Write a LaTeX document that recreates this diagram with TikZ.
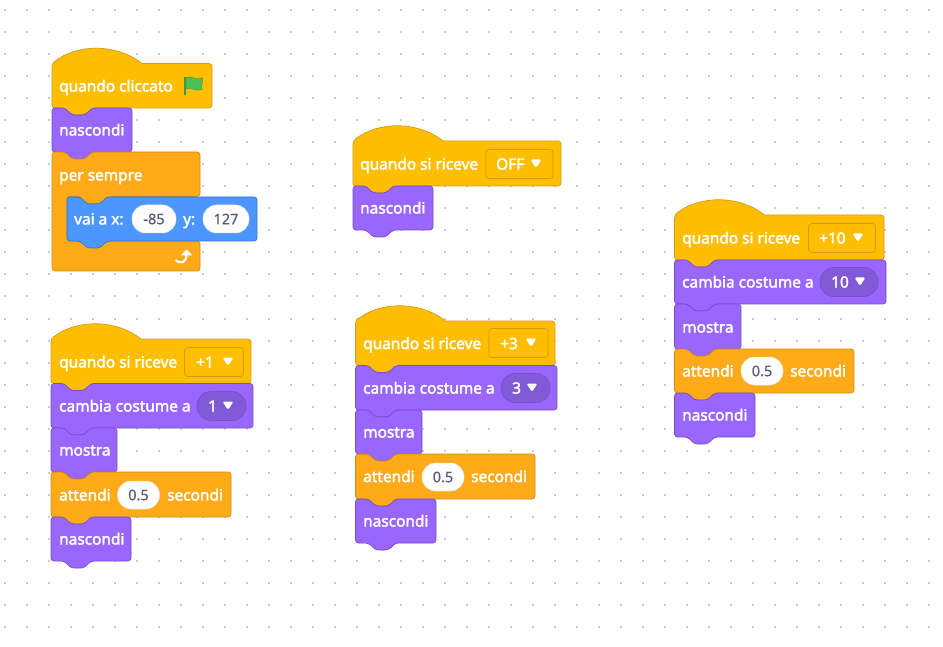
\documentclass[tikz,border=0pt]{standalone}
\usepackage{fontspec}
\setmainfont{Noto Sans}
\newfontfamily\blockfont[FakeBold=2.4]{Noto Sans}
\newfontfamily\numfont[FakeBold=.5]{Noto Sans}
\usetikzlibrary{calc}

\definecolor{hatfill}{HTML}{FFBF00}
\definecolor{hatedge}{HTML}{CF9B17}
\definecolor{lookfill}{HTML}{9966FF}
\definecolor{lookedge}{HTML}{774DCB}
\definecolor{lookpill}{HTML}{8259D6}
\definecolor{ctrlfill}{HTML}{FFAB19}
\definecolor{ctrledge}{HTML}{CF8B17}
\definecolor{motionfill}{HTML}{4C97FF}
\definecolor{motionedge}{HTML}{3373CC}
\definecolor{numtext}{HTML}{575E75}
\definecolor{flagfill}{HTML}{4CBF56}
\definecolor{flagedge}{HTML}{45993D}

% left, top, right, bottom in pixels
\newcommand{\stackblock}[5]{
  \draw[#1,rounded corners=3pt] (#2,#3) -- ({#2+13},#3) -- ({#2+20},{#3+7}) -- ({#2+33},{#3+7}) -- ({#2+40},#3)
    -- (#4,#3) -- (#4,#5) -- ({#2+40},#5) -- ({#2+33},{#5+7}) -- ({#2+20},{#5+7}) -- ({#2+13},#5) -- (#2,#5) -- cycle;
}
\newcommand{\hatblock}[4]{
  \draw[hat] (#1,#2) .. controls ({#1+25},{#2-20}) and ({#1+65},{#2-20}) .. ({#1+90},#2)
    [rounded corners=3pt] -- (#3,#2) -- (#3,#4) -- ({#1+40},#4) -- ({#1+33},{#4+7}) -- ({#1+20},{#4+7}) -- ({#1+13},#4) -- (#1,#4) -- cycle;
}
\newcommand{\menuarrow}[1]{
  \fill[white,rounded corners=1.5pt] ($(#1)+(-5.5,-4.5)$) -- ($(#1)+(5.5,-4.5)$) -- ($(#1)+(0,4)$) -- cycle;
}

\begin{document}
\begin{tikzpicture}[x=1pt,y=-1pt,
    hat/.style={fill=hatfill,draw=hatedge,line width=.7pt},
    look/.style={fill=lookfill,draw=lookedge,line width=.7pt},
    ctrl/.style={fill=ctrlfill,draw=ctrledge,line width=.7pt},
    motion/.style={fill=motionfill,draw=motionedge,line width=.7pt},
    word/.style={inner sep=0pt,anchor=base west,text=white,font=\blockfont\fontsize{15.4}{17}\selectfont},
    numpill/.style={fill=white,draw=black!12,line width=.5pt,rounded corners=13.5pt,minimum height=28pt,inner sep=0pt,text=numtext,font=\numfont\fontsize{14.5}{16}\selectfont},
    hatmenu/.style={draw=hatedge,line width=.6pt,rounded corners=3pt,minimum height=29pt,inner sep=0pt},
    lookmenu/.style={fill=lookpill,draw=lookedge,line width=.6pt,rounded corners=14pt,minimum height=29pt,inner sep=0pt},
    dotmark/.style={fill=black!20}]

    \useasboundingbox (0,0) rectangle (943,647);
    \fill[white] (0,0) rectangle (943,647);

    % dotted grid of the workspace
    \foreach \i in {0,...,42}
      \foreach \j in {0,...,29}
        \fill[dotmark] ({3.5+22*\i},{9.5+22*\j}) rectangle ++(2,2);

    % green flag stack
    \hatblock{52}{63.5}{212}{108}
    \node[word] (cliccato) at (59,91.5) {quando cliccato};
    \draw[line width=1.6pt,draw=flagedge] (185,77) -- (185,95);
    \draw[fill=flagfill,draw=flagedge,line width=.5pt] (186,77.5) .. controls (191,75) and (195,81) .. (202.5,78)
      -- (201.5,89.5) .. controls (194,92) and (191,86) .. (186,89) -- cycle;
    \stackblock{look}{52}{108}{132}{152}
    \node[word] (nascondiA) at (59,135.5) {nascondi};
    \draw[ctrl,rounded corners=3pt] (52,152) -- (65,152) -- (72,159) -- (85,159) -- (92,152) -- (200,152) -- (200,196.5)
      -- (107,196.5) -- (100,203.5) -- (87,203.5) -- (80,196.5) -- (67,196.5) -- (67,241) -- (200,241) -- (200,271) -- (52,271) -- cycle;
    \node[word] (sempre) at (59,180.5) {per sempre};
    \stackblock{motion}{67}{197}{257}{241}
    \node[word] (vai) at (74,224.5) {vai a x:};
    \node[numpill,minimum width=44pt] (xval) at (154,219) {-85};
    \node[word] (ylab) at (183,224.5) {y:};
    \node[numpill,minimum width=46pt] (yval) at (226,219) {127};
    \draw[white,line width=2pt] (175.5,260) .. controls (181,265) and (187,262) .. (186.5,254);
    \fill[white,rounded corners=.8pt] (180.5,255.5) -- (186.5,249.5) -- (192.5,255.5) -- cycle;

    % +1 stack
    \hatblock{51}{339}{251}{383.5}
    \node[word] (riceveA) at (59,367.5) {quando si riceve};
    \node[hatmenu,minimum width=59pt] (menuA) at (214,362) {};
    \node[word] (plusA) at (196,367.5) {+1};
    \menuarrow{228,362}
    \stackblock{look}{51}{383.5}{253}{428}
    \node[word] (cambiaA) at (59,411.5) {cambia costume a};
    \node[lookmenu,minimum width=49pt] (costA) at (221.5,406) {};
    \node[word] (costAval) at (208,411.5) {1};
    \menuarrow{228,406}
    \stackblock{look}{51}{428}{117}{472}
    \node[word] (mostraA) at (59,455.5) {mostra};
    \stackblock{ctrl}{51}{472}{231}{517}
    \node[word] (attendiA) at (59,500.5) {attendi};
    \node[numpill,minimum width=42pt] (tempoA) at (138.5,495) {0.5};
    \node[word] (secondiA) at (167,500.5) {secondi};
    \stackblock{look}{51}{517}{131}{561}
    \node[word] (nascondiB) at (59,544.5) {nascondi};

    % OFF stack
    \hatblock{353}{141}{561}{186}
    \node[word] (riceveB) at (360,169.5) {quando si riceve};
    \node[hatmenu,minimum width=67pt] (menuB) at (519.5,164) {};
    \node[word] (off) at (496,169.5) {OFF};
    \menuarrow{536,164}
    \stackblock{look}{353}{186}{433}{230}
    \node[word] (nascondiC) at (360,213.5) {nascondi};

    % +3 stack
    \hatblock{355.5}{321}{555}{365.5}
    \node[word] (riceveC) at (363,349) {quando si riceve};
    \node[hatmenu,minimum width=59pt] (menuC) at (518.5,343) {};
    \node[word] (plusC) at (500,349) {+3};
    \menuarrow{531,343}
    \stackblock{look}{355.5}{365.5}{557}{410}
    \node[word] (cambiaC) at (363,393.5) {cambia costume a};
    \node[lookmenu,minimum width=49pt] (costC) at (525.5,388) {};
    \node[word] (costCval) at (512,393.5) {3};
    \menuarrow{532,388}
    \stackblock{look}{355.5}{410}{422}{454}
    \node[word] (mostraC) at (363,437.5) {mostra};
    \stackblock{ctrl}{355.5}{454}{535}{499}
    \node[word] (attendiC) at (363,482) {attendi};
    \node[numpill,minimum width=42pt] (tempoC) at (443,477) {0.5};
    \node[word] (secondiC) at (471,482) {secondi};
    \stackblock{look}{355.5}{499}{436}{543}
    \node[word] (nascondiD) at (363,526.5) {nascondi};

    % +10 stack
    \hatblock{674.5}{215}{884}{260}
    \node[word] (riceveD) at (682,243.5) {quando si riceve};
    \node[hatmenu,minimum width=67pt] (menuD) at (842,238) {};
    \node[word] (plusD) at (819,243.5) {+10};
    \menuarrow{858,238}
    \stackblock{look}{674.5}{260}{886}{304}
    \node[word] (cambiaD) at (682,287.5) {cambia costume a};
    \node[lookmenu,minimum width=58pt] (costD) at (849,282) {};
    \node[word] (costDval) at (831,287.5) {10};
    \menuarrow{860,282}
    \stackblock{look}{674.5}{304}{741}{349}
    \node[word] (mostraD) at (682,332.5) {mostra};
    \stackblock{ctrl}{674.5}{349}{854}{393}
    \node[word] (attendiD) at (682,376.5) {attendi};
    \node[numpill,minimum width=42pt] (tempoD) at (762,371) {0.5};
    \node[word] (secondiD) at (790,376.5) {secondi};
    \stackblock{look}{674.5}{393}{755}{437}
    \node[word] (nascondiE) at (682,420.5) {nascondi};
\end{tikzpicture}
\end{document}
